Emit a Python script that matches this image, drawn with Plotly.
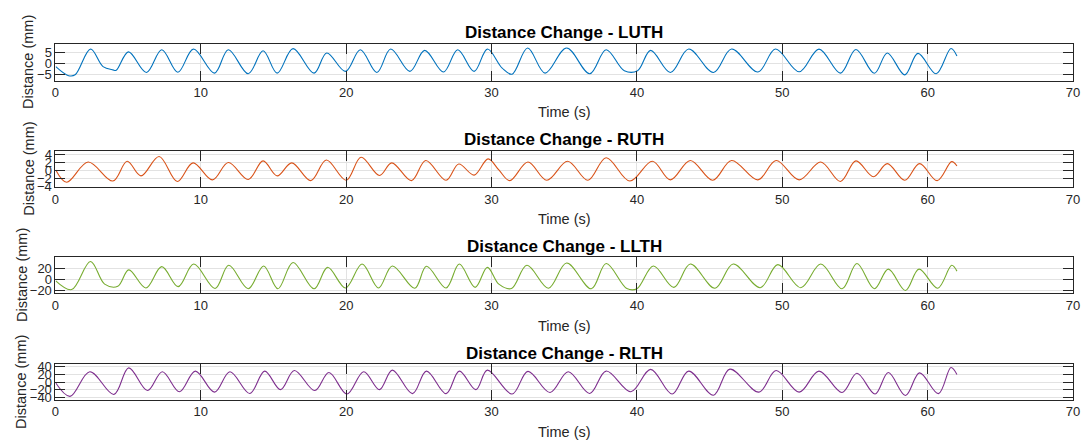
import plotly.graph_objects as go

# ---------------- data ----------------
luth_t = [0.02, 0.9, 1.35, 2.41, 3.27, 3.95, 4.18, 5.02, 6.26, 7.31, 8.42, 9.49, 10.94, 11.89, 13.26, 14.28,
          15.25, 16.34, 17.79, 18.66, 19.95, 20.97, 22.11, 23.06, 24.38, 25.40, 26.69, 27.67, 28.80, 29.71,
          30.73, 31.41, 32.48, 33.68, 35.16, 36.75, 37.88, 39.13, 40.04, 40.94, 42.30, 43.56, 45.26, 46.51,
          48.32, 49.53, 51.16, 52.52, 54.0, 55.06, 56.33, 57.22, 58.42, 59.33, 60.58, 61.60, 62.01]
luth_v = [-1.4, -5.6, -5.2, 6.8, -1.4, -2.9, -3.1, 5.5, -4.1, 6.5, -4.0, 6.8, -4.4, 6.5, -4.7, 6.0,
          -4.4, 7.0, -4.4, 5.0, -3.6, 6.5, -4.1, 6.8, -3.6, 6.2, -3.9, 6.5, -3.6, 6.8,
          -2.1, -4.9, 7.3, -4.4, 7.3, -4.7, 6.5, -3.3, -3.3, 6.2, -4.1, 6.8, -4.1, 6.8,
          -3.9, 6.8, -3.8, 6.8, -4.4, 6.6, -4.5, 5.0, -5.2, 4.8, -4.7, 7.1, 3.6]

ruth_t = [0.02, 0.77, 2.25, 3.95, 4.93, 5.88, 7.13, 8.38, 9.46, 10.8, 11.89, 13.26, 14.28, 15.25, 16.25,
          17.57, 18.63, 20.0, 21.02, 22.29, 23.13, 24.49, 25.47, 26.87, 27.74, 28.80, 29.76, 30.5, 31.25,
          32.50, 33.80, 35.23, 36.63, 37.88, 39.51, 41.06, 42.3, 43.67, 45.21, 46.51, 48.32, 49.57, 51.16,
          52.64, 54.0, 55.06, 56.27, 57.22, 58.42, 59.44, 60.65, 61.65, 62.01]
ruth_v = [0.2, -2.9, 2.2, -2.6, 2.4, -1.3, 3.6, -2.7, 2.0, -2.3, 2.1, -2.2, 2.5, -1.3, 2.0,
          -2.5, 2.7, -2.4, 3.4, -1.2, 2.0, -2.5, 2.6, -2.4, 1.7, -1.1, 3.0, 0.2, -2.5,
          2.2, -2.4, 2.4, -2.4, 3.3, -2.6, 2.4, -2.3, 2.6, -2.4, 2.6, -2.3, 2.6, -2.3,
          2.2, -2.7, 2.5, -1.5, 1.8, -2.4, 1.8, -2.5, 2.3, 1.2]

llth_t = [0.02, 1.11, 2.41, 3.38, 4.29, 5.04, 6.22, 7.31, 8.44, 9.51, 10.98, 11.92, 13.26, 14.32, 15.3,
          16.34, 17.79, 18.72, 19.95, 21.09, 22.22, 23.17, 24.72, 25.52, 26.87, 27.78, 28.87, 29.71, 30.5,
          31.37, 32.43, 33.91, 35.16, 36.86, 37.88, 39.3, 40.0, 41.13, 42.54, 43.67, 45.37, 46.62, 48.48,
          49.69, 51.27, 52.64, 54.11, 55.13, 56.33, 57.29, 58.47, 59.4, 60.69, 61.65, 62.01]
llth_v = [-2.9, -19, 32.8, -8.9, -13, 17.3, -16, 23.3, -13.6, 28, -17, 25.7, -17.5, 24.5, -17.5,
          31, -17.5, 22, -16, 28, -16, 24.5, -16.5, 24, -16, 28, -14.9, 22, -9,
          -17, 25.7, -16.5, 30, -17.5, 29, -17, -17.5, 24.5, -15, 28, -16.5, 28, -15.5,
          27, -15.5, 28, -17.5, 29, -17.5, 18.6, -20.7, 18.6, -16.5, 25.7, 15]

rlth_t = [0.02, 1.0, 2.36, 4.02, 5.04, 6.33, 7.35, 8.53, 9.62, 10.94, 12.0, 13.37, 14.39, 15.48, 16.43,
          17.84, 18.81, 20.05, 21.2, 22.29, 23.17, 24.56, 25.52, 26.87, 27.78, 28.92, 29.71, 31.41, 32.5,
          34.02, 35.27, 36.75, 37.88, 39.58, 40.94, 42.42, 43.56, 45.26, 46.39, 48.39, 49.57, 51.16, 52.52,
          54.11, 55.13, 56.38, 57.29, 58.47, 59.44, 60.74, 61.6, 62.01]
rlth_v = [-2.5, -37, 27, -32, 37, -22, 27, -25, 28.6, -26, 27, -29.6, 28.6, -19.5, 30,
          -22, 25, -31, 27, -19.5, 31, -30, 28.6, -30, 28.6, -19.5, 31, -31, 27.8,
          -27, 27, -29.6, 28.6, -25, 33, -31, 28.6, -34, 33.7, -26, 30, -26, 28.6,
          -27, 22.8, -31, 25, -34.7, 24, -30, 38, 20]

names = ["LUTH", "RUTH", "LLTH", "RLTH"]
colors = ["#0072BD", "#D95319", "#77AC30", "#7E2F8E"]
y_ranges = [[-7.9, 9.2], [-4.1, 5.0], [-25.4, 40.4], [-46, 46]]
y_ticks = [[-5, 0, 5], [-4, -2, 0, 2, 4], [-20, 0, 20], [-40, -20, 0, 20, 40]]
x_ticks = [0, 10, 20, 30, 40, 50, 60, 70]
series = [(luth_t, luth_v), (ruth_t, ruth_v), (llth_t, llth_v), (rlth_t, rlth_v)]

# ---------------- layout geometry (pixels) ----------------
W, H = 1088, 447
box_top = [40, 150, 259.3, 369.3]
box_bot = [77.7, 187, 296, 405.7]
title_y = [28, 138, 248, 358]
xlabel_y = [110, 220, 330, 439]
ylabel_x = [25, 25, 18, 17]
x0, x1 = 52, 1080

FONT = "Liberation Sans, Arial, Helvetica, sans-serif"
AX = "#262626"
GRID = "#e2e2e2"

fig = go.Figure()
layout = dict(width=W, height=H, margin=dict(l=0, r=0, t=0, b=0),
              paper_bgcolor="white", plot_bgcolor="white", showlegend=False,
              font=dict(family=FONT, size=13, color=AX))
annotations = []

for i in range(4):
    k = "" if i == 0 else str(i + 1)
    t, v = series[i]
    fig.add_trace(go.Scatter(x=t, y=v, mode="lines", line=dict(color=colors[i], width=1.1, shape="spline"),
                             xaxis="x" + k, yaxis="y" + k, hoverinfo="skip"))
    common = dict(showline=True, linecolor=AX, linewidth=1, mirror="ticks", ticks="inside", ticklen=10,
                  tickcolor=AX, tickwidth=1, showgrid=True, gridcolor=GRID, gridwidth=1, zeroline=False,
                  tickfont=dict(family=FONT, size=13, color=AX))
    layout["xaxis" + k] = dict(common, domain=[x0 / W, x1 / W], range=[0, 70], tickvals=x_ticks,
                                anchor="y" + k)
    layout["yaxis" + k] = dict(common, domain=[1 - box_bot[i] / H, 1 - box_top[i] / H],
                                range=y_ranges[i], tickvals=y_ticks[i], anchor="x" + k)
    annotations.append(dict(text="<b>Distance Change - %s</b>" % names[i], x=(x0 + x1) / 2 / W,
                            y=1 - title_y[i] / H, xref="paper", yref="paper", showarrow=False,
                            xanchor="center", yanchor="middle", font=dict(size=17, color="black")))
    annotations.append(dict(text="Time (s)", x=(x0 + x1) / 2 / W, y=1 - xlabel_y[i] / H, xref="paper",
                            yref="paper", showarrow=False, xanchor="center", yanchor="middle",
                            font=dict(size=14.5, color=AX)))
    annotations.append(dict(text="Distance (mm)", x=ylabel_x[i] / W,
                            y=1 - (box_top[i] + box_bot[i]) / 2 / H, xref="paper", yref="paper",
                            showarrow=False, xanchor="center", yanchor="middle", textangle=-90,
                            font=dict(size=14.5, color=AX)))

layout["annotations"] = annotations
fig.update_layout(**layout)
fig.write_html("out.html")
